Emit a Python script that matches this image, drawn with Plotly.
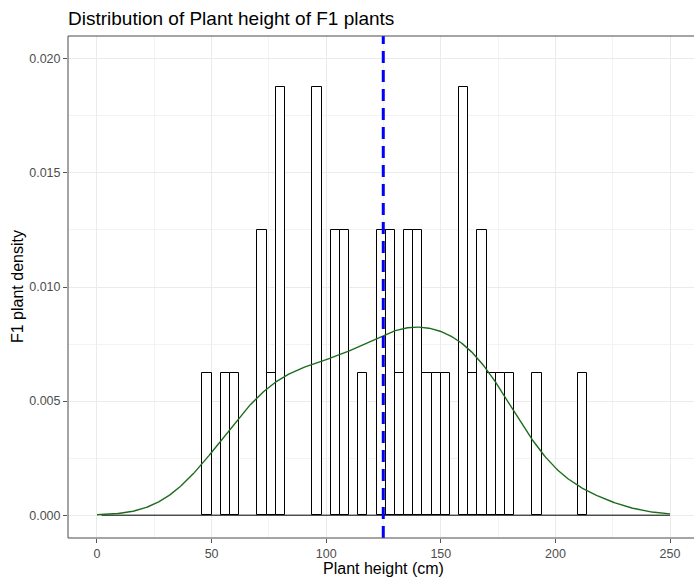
import numpy as np
import plotly.graph_objects as go

# Plant heights of the F1 population (cm)
heights = [48, 56, 60, 72, 72, 76, 80, 80, 80, 96, 96, 96, 104, 104, 108, 108,
           116, 124, 124, 128, 128, 132, 136, 136, 140, 140, 144, 148, 152,
           160, 160, 160, 164, 168, 168, 172, 176, 180, 192, 212]
bin_width = 4
x_limits = [0, 250]
x_ticks = [0, 50, 100, 150, 200, 250]
y_ticks = [0.000, 0.005, 0.010, 0.015, 0.020]

data = np.array(heights, dtype=float)
n = len(data)

# histogram on density scale, bins centred on multiples of 4
edges = np.arange(2, x_limits[1] + bin_width, bin_width)
counts, edges = np.histogram(data, bins=edges)
centers = (edges[:-1] + edges[1:]) / 2
dens = counts / (n * bin_width)

# Gaussian kernel density with Silverman's rule-of-thumb bandwidth
sd = data.std(ddof=1)
q75, q25 = np.percentile(data, [75, 25])
bw = 0.9 * min(sd, (q75 - q25) / 1.34) * n ** (-0.2)
grid = np.linspace(x_limits[0], x_limits[1], 512)
kde = np.exp(-0.5 * ((grid[:, None] - data[None, :]) / bw) ** 2).sum(axis=1) / (n * bw * np.sqrt(2 * np.pi))

mean_height = data.mean()

fig = go.Figure()
nz = counts > 0
fig.add_trace(go.Bar(
    x=centers[nz], y=dens[nz], width=bin_width,
    marker=dict(color="white", line=dict(color="black", width=1)),
    hoverinfo="skip",
))
# zero-height bins appear as a flat outline along the baseline
fig.add_trace(go.Scatter(
    x=[edges[0], edges[-1]], y=[0, 0], mode="lines",
    line=dict(color="black", width=1), hoverinfo="skip",
))
fig.add_trace(go.Scatter(
    x=grid, y=kde, mode="lines",
    line=dict(color="#1d6b1d", width=1.4), hoverinfo="skip",
))

fig.add_shape(type="line", xref="x", yref="paper", x0=mean_height, x1=mean_height,
              y0=0, y1=1, line=dict(color="#0000ff", width=3, dash="12px,7px"))

# panel border (left, top, bottom)
border = "#4a4a4a"
fig.add_shape(type="line", xref="paper", yref="paper", x0=0, x1=0, y0=0, y1=1,
              line=dict(color=border, width=1))
fig.add_shape(type="line", xref="paper", yref="paper", x0=0, x1=1.1, y0=1, y1=1,
              line=dict(color=border, width=1))
fig.add_shape(type="line", xref="paper", yref="paper", x0=0, x1=1.1, y0=0, y1=0,
              line=dict(color=border, width=1))

font_family = "Liberation Sans, Arial, sans-serif"
grid_major = "#ebebeb"
grid_minor = "#f3f3f3"

fig.update_layout(
    width=694, height=580,
    margin=dict(l=68, r=0, t=36, b=42),
    paper_bgcolor="white", plot_bgcolor="white",
    showlegend=False, bargap=0,
    font=dict(family=font_family, color="black"),
    title=dict(text="Distribution of Plant height of F1 plants",
               x=68 / 694, xanchor="left", xref="container",
               y=1 - 18 / 580, yanchor="middle", yref="container",
               font=dict(size=19, color="black")),
    xaxis=dict(range=[-12.65, 260.47], tickvals=x_ticks,
               ticks="outside", ticklen=4, tickcolor="#555555", tickwidth=1,
               tickfont=dict(size=12.5, color="#4d4d4d"),
               showgrid=True, gridcolor=grid_major, gridwidth=1.3, zeroline=False,
               minor=dict(dtick=25, tick0=0, showgrid=True, gridcolor=grid_minor, gridwidth=1),
               showline=False),
    yaxis=dict(range=[-0.001, 0.021], tickvals=y_ticks, tickformat=".3f",
               ticks="outside", ticklen=4, tickcolor="#555555", tickwidth=1,
               tickfont=dict(size=12.5, color="#4d4d4d"),
               showgrid=True, gridcolor=grid_major, gridwidth=1.3, zeroline=False,
               minor=dict(dtick=0.0025, tick0=0, showgrid=True, gridcolor=grid_minor, gridwidth=1),
               showline=False),
    annotations=[
        dict(text="Plant height (cm)", xref="paper", yref="paper",
             x=(383.6 - 68) / 626, y=(538 - 568) / 502, xanchor="center", yanchor="middle",
             showarrow=False, font=dict(size=16, color="black")),
        dict(text="F1 plant density", xref="paper", yref="paper", textangle=-90,
             x=(17 - 68) / 626, y=0.5, xanchor="center", yanchor="middle",
             showarrow=False, font=dict(size=16, color="black")),
    ],
)

fig.write_html("out.html")
